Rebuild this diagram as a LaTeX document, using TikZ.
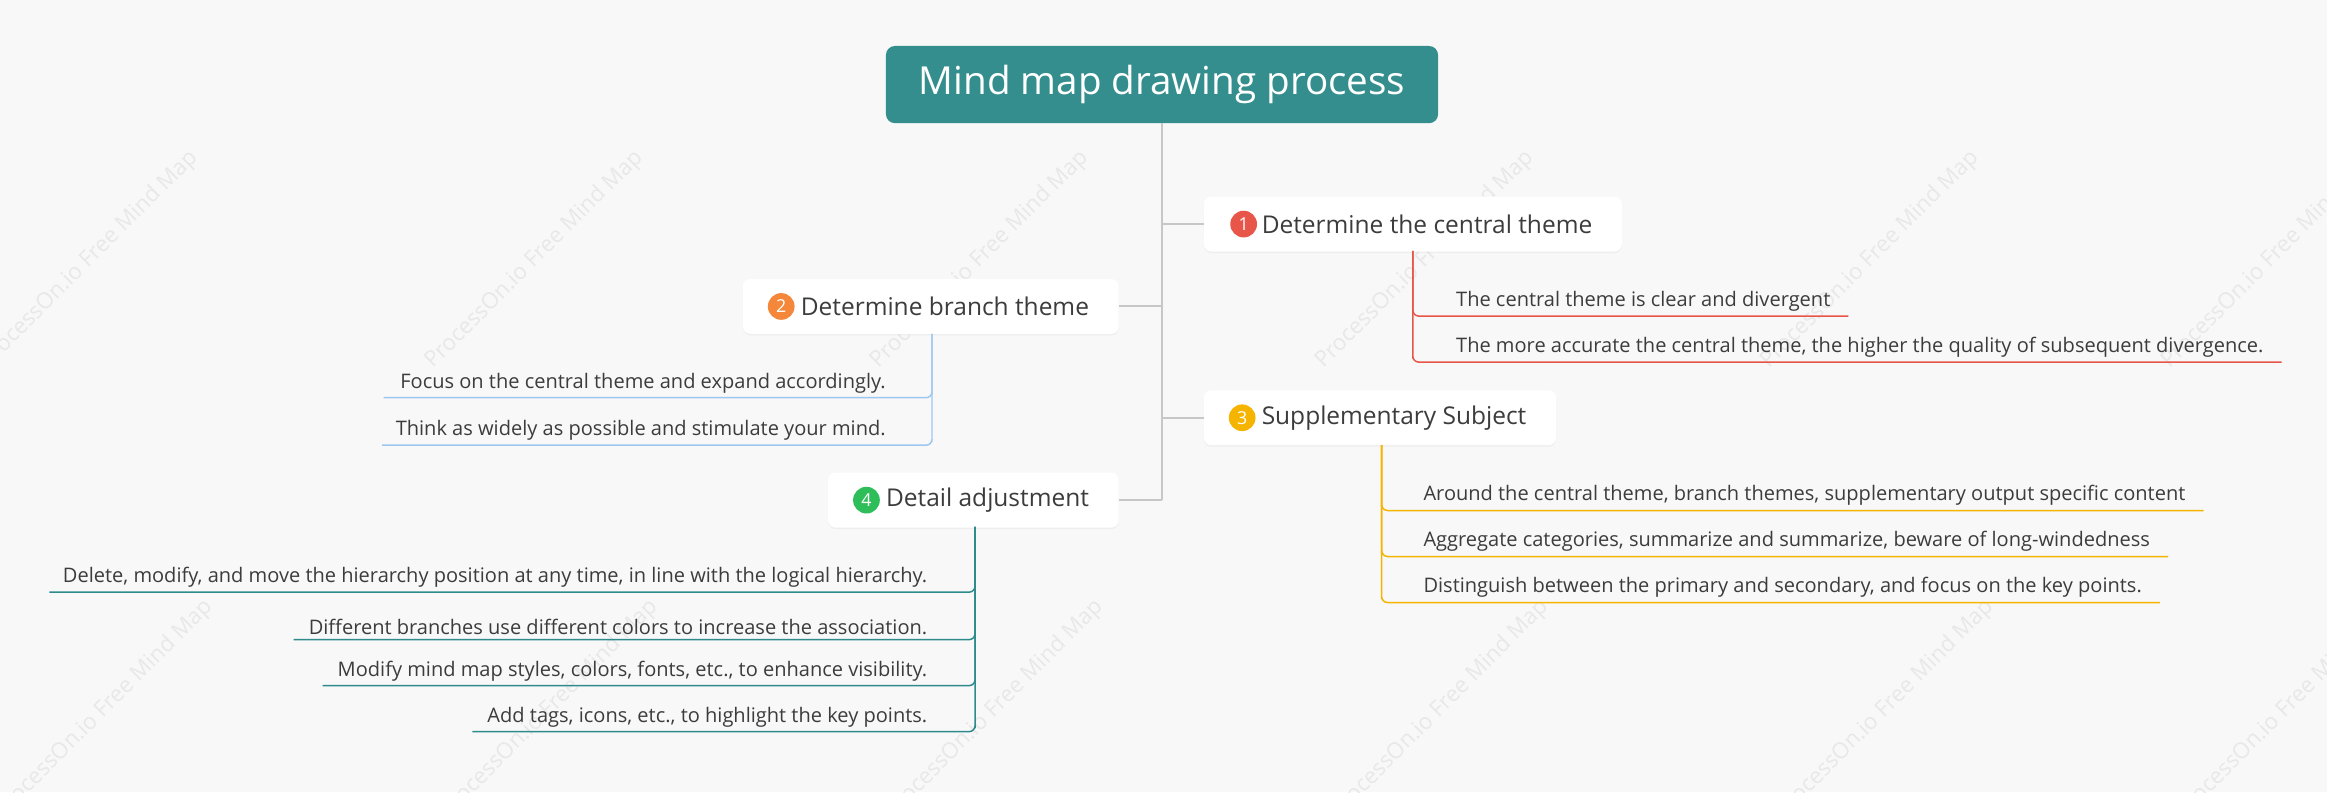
\documentclass[tikz,border=0pt]{standalone}
\usepackage{fontspec}
\setmainfont{Open Sans}
\usetikzlibrary{shadows}
\definecolor{bg}{HTML}{F8F8F8}
\definecolor{teal}{HTML}{358E8E}
\definecolor{cA}{HTML}{E8564A}
\definecolor{cB}{HTML}{9CC8F0}
\definecolor{cC}{HTML}{F5B400}
\definecolor{cD}{HTML}{2E8B8B}
\definecolor{oB}{HTML}{F5873A}
\definecolor{gD}{HTML}{2DBE5A}
\definecolor{txt}{HTML}{3C3C3C}
\begin{document}
\begin{tikzpicture}[x=1pt,y=-1pt,
  sub/.style={fill=white,rounded corners=5pt,inner xsep=13pt,minimum height=37pt,font=\fontsize{16.5}{19}\selectfont,text=txt,
     drop shadow={opacity=0.08,shadow xshift=0pt,shadow yshift=-1pt}},
  num/.style={circle,inner sep=0pt,minimum size=18pt,text=white,font=\fontsize{12}{12}\selectfont},
  leaf/.style={inner xsep=0pt,inner ysep=3pt,font=\fontsize{13.5}{16}\selectfont,text=txt},
  wm/.style={rotate=45,text=black!9,font=\fontsize{15}{17}\selectfont},
  br/.style={draw=black!22,line width=1.3pt},
  lk/.style={line width=1pt,rounded corners=4pt}]
\fill[bg] (0,0) rectangle (1568,534);
\useasboundingbox (0,0) rectangle (1568,534);
\foreach \x in {60,360,660,960,1260,1530}{
  \node[wm] (w\x a) at (\x,175) {ProcessOn.io Free Mind Map};
  \node[wm] (w\x b) at (\x+10,478) {ProcessOn.io Free Mind Map};}
\node[fill=teal,rounded corners=6pt,minimum width=372pt,minimum height=52pt,text=white,font=\fontsize{26}{30}\selectfont] (root) at (783,57) {Mind map drawing process};
\node[sub,anchor=west] (n1) at (811,151) {\kern26pt Determine the central theme\kern7pt};
\node[sub,anchor=east] (n2) at (754,206.5) {\kern26pt Determine branch theme\kern7pt};
\node[sub,anchor=west] (n3) at (811,281.5) {\kern26pt Supplementary Subject\kern7pt};
\node[sub,anchor=east] (n4) at (754,337) {\kern26pt Detail adjustment\kern7pt};
\node[num,fill=cA] (k1) at ([xshift=27pt]n1.west) {1};
\node[num,fill=oB] (k2) at ([xshift=26pt]n2.west) {2};
\node[num,fill=cC] (k3) at ([xshift=26pt]n3.west) {3};
\node[num,fill=gD] (k4) at ([xshift=26pt]n4.west) {4};
\coordinate (t) at (783,337);
\draw[br] (root.south) -- (t);
\draw[br] (root.south |- n1.west) -- (n1.west);
\draw[br] (root.south |- n3.west) -- (n3.west);
\draw[br] (root.south |- n2.east) -- (n2.east);
\draw[br] (t) -- (n4.east);
% branch 1
\coordinate (v1) at (952,169);
\node[leaf,anchor=south west] (a1) at (952,213) {\kern29pt The central theme is clear and divergent\kern12pt};
\node[leaf,anchor=south west] (a2) at (952,244) {\kern29pt The more accurate the central theme, the higher the quality of subsequent divergence.\kern12pt};
\draw[cA,lk] (v1) |- (a1.south west) -- (a1.south east);
\draw[cA,lk] (v1) |- (a2.south west) -- (a2.south east);
% branch 2
\coordinate (v2) at (628,225);
\node[leaf,anchor=south east] (b1) at (628,268) {\kern11pt Focus on the central theme and expand accordingly.\kern31pt};
\node[leaf,anchor=south east] (b2) at (628,300) {\kern9pt Think as widely as possible and stimulate your mind.\kern31pt};
\draw[cB,lk] (v2) |- (b1.south east) -- (b1.south west);
\draw[cB,lk] (v2) |- (b2.south east) -- (b2.south west);
% branch 3
\coordinate (v3) at (931,300);
\node[leaf,anchor=south west] (c1) at (931,344) {\kern28pt Around the central theme, branch themes, supplementary output specific content\kern12pt};
\node[leaf,anchor=south west] (c2) at (931,375) {\kern28pt Aggregate categories, summarize and summarize, beware of long-windedness\kern12pt};
\node[leaf,anchor=south west] (c3) at (931,406) {\kern28pt Distinguish between the primary and secondary, and focus on the key points.\kern12pt};
\foreach \c in {c1,c2,c3}{\draw[cC,lk] (v3) |- (\c.south west) -- (\c.south east);}
% branch 4
\coordinate (v4) at (657,355);
\node[leaf,anchor=south east] (d1) at (657,399) {\kern9pt Delete, modify, and move the hierarchy position at any time, in line with the logical hierarchy.\kern32pt};
\node[leaf,anchor=south east] (d2) at (657,431) {\kern10pt Different branches use different colors to increase the association.\kern32pt};
\node[leaf,anchor=south east] (d3) at (657,462) {\kern10pt Modify mind map styles, colors, fonts, etc., to enhance visibility.\kern32pt};
\node[leaf,anchor=south east] (d4) at (657,493) {\kern10pt Add tags, icons, etc., to highlight the key points.\kern32pt};
\foreach \d in {d1,d2,d3,d4}{\draw[cD,lk] (v4) |- (\d.south east) -- (\d.south west);}
\end{tikzpicture}
\end{document}
